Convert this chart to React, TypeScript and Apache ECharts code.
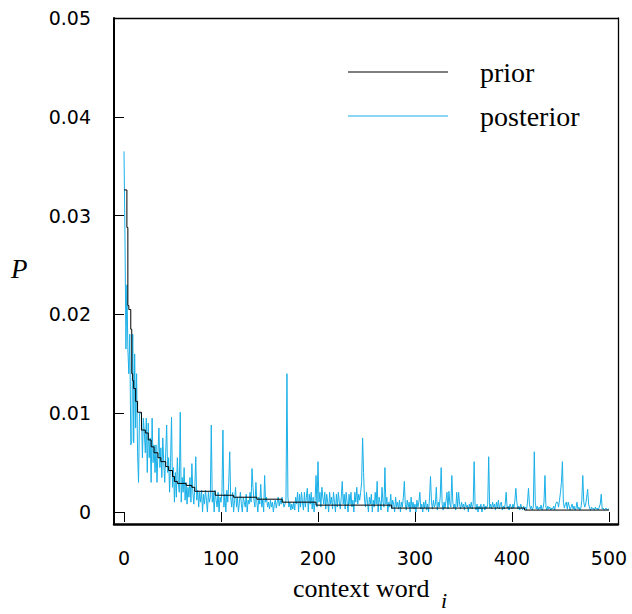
import React, { useEffect, useRef } from "react";
import * as echarts from "echarts";

const xTicks = [0, 100, 200, 300, 400, 500];
const yTicks = [0, 0.01, 0.02, 0.03, 0.04, 0.05];
const seriesNames = ["prior", "posterior"];

// prior: step breakpoints (context word index, probability)
const priorX = [0, 3, 4, 5, 7, 8, 9, 10, 12, 14, 18, 22, 25, 28, 31, 35, 38, 43, 46, 50, 52, 55, 64, 70, 73, 94, 113, 137, 163, 198, 276, 413, 500];
const priorY = [0.0326, 0.0288, 0.0209, 0.0205, 0.0185, 0.014, 0.0133, 0.0125, 0.0112, 0.0101, 0.0083, 0.008, 0.0073, 0.0066, 0.006, 0.0055, 0.0051, 0.0046, 0.0042, 0.0036, 0.0031, 0.0029, 0.0027, 0.0025, 0.0021, 0.0017, 0.0015, 0.0013, 0.001, 0.0007, 0.0004, 0.0002, 0.0002];

// posterior: value for each context word index 0..500
const posterior = [
  0.0365, 0.0280, 0.0165, 0.0230, 0.0165, 0.0140, 0.0180, 0.0068, 0.0072, 0.0180, 0.0070, 0.0160, 0.0085, 0.0140, 0.0060, 0.0030, 0.0100, 0.0100, 0.0100, 0.0055, 0.0095, 0.0080, 0.0060, 0.0095, 0.0040,
  0.0090, 0.0055, 0.0075, 0.0030, 0.0095, 0.0050, 0.0068, 0.0040, 0.0068, 0.0030, 0.0060, 0.0085, 0.0045, 0.0065, 0.0035, 0.0075, 0.0050, 0.0030, 0.0060, 0.0088, 0.0040, 0.0055, 0.0020, 0.0050, 0.0096,
  0.0025, 0.0045, 0.0010, 0.0040, 0.0015, 0.0055, 0.0030, 0.0020, 0.0101, 0.0010, 0.0035, 0.0020, 0.0045, 0.0012, 0.0030, 0.0008, 0.0025, 0.0015, 0.0035, 0.0010, 0.0049, 0.0020, 0.0008, 0.0025, 0.0056,
  0.0012, 0.0022, 0.0005, 0.0020, 0.0010, 0.0022, 0.0000, 0.0018, 0.0008, 0.0022, 0.0012, 0.0000, 0.0020, 0.0010, 0.0015, 0.0088, 0.0010, 0.0020, 0.0000, 0.0022, 0.0012, 0.0005, 0.0020, 0.0000, 0.0015,
  0.0010, 0.0020, 0.0083, 0.0005, 0.0018, 0.0000, 0.0022, 0.0010, 0.0030, 0.0061, 0.0015, 0.0005, 0.0020, 0.0000, 0.0012, 0.0025, 0.0005, 0.0015, 0.0000, 0.0010, 0.0020, 0.0008, 0.0000, 0.0015, 0.0010,
  0.0005, 0.0018, 0.0000, 0.0012, 0.0008, 0.0020, 0.0010, 0.0044, 0.0025, 0.0012, 0.0005, 0.0030, 0.0010, 0.0000, 0.0015, 0.0008, 0.0028, 0.0005, 0.0012, 0.0000, 0.0037, 0.0010, 0.0015, 0.0005, 0.0010,
  0.0003, 0.0012, 0.0005, 0.0010, 0.0000, 0.0008, 0.0012, 0.0004, 0.0010, 0.0015, 0.0006, 0.0012, 0.0008, 0.0015, 0.0010, 0.0005, 0.0008, 0.0012, 0.0140, 0.0015, 0.0005, 0.0010, 0.0002, 0.0008, 0.0003,
  0.0010, 0.0002, 0.0015, 0.0008, 0.0020, 0.0000, 0.0018, 0.0005, 0.0020, 0.0010, 0.0002, 0.0020, 0.0005, 0.0015, 0.0024, 0.0000, 0.0018, 0.0008, 0.0020, 0.0003, 0.0015, 0.0000, 0.0012, 0.0037, 0.0005,
  0.0051, 0.0010, 0.0020, 0.0005, 0.0025, 0.0015, 0.0008, 0.0020, 0.0003, 0.0018, 0.0010, 0.0000, 0.0020, 0.0008, 0.0015, 0.0003, 0.0020, 0.0010, 0.0000, 0.0018, 0.0005, 0.0020, 0.0010, 0.0003, 0.0015,
  0.0031, 0.0008, 0.0018, 0.0003, 0.0020, 0.0010, 0.0000, 0.0018, 0.0008, 0.0020, 0.0005, 0.0012, 0.0000, 0.0020, 0.0010, 0.0025, 0.0008, 0.0018, 0.0012, 0.0020, 0.0030, 0.0075, 0.0040, 0.0012, 0.0005,
  0.0020, 0.0010, 0.0000, 0.0015, 0.0008, 0.0018, 0.0000, 0.0012, 0.0005, 0.0020, 0.0008, 0.0031, 0.0000, 0.0015, 0.0010, 0.0002, 0.0025, 0.0010, 0.0005, 0.0045, 0.0008, 0.0015, 0.0000, 0.0010, 0.0005,
  0.0018, 0.0003, 0.0012, 0.0008, 0.0000, 0.0015, 0.0005, 0.0010, 0.0003, 0.0012, 0.0000, 0.0010, 0.0005, 0.0015, 0.0031, 0.0008, 0.0002, 0.0012, 0.0005, 0.0010, 0.0000, 0.0015, 0.0004, 0.0010, 0.0003,
  0.0008, 0.0000, 0.0012, 0.0005, 0.0010, 0.0020, 0.0003, 0.0008, 0.0000, 0.0010, 0.0004, 0.0012, 0.0002, 0.0008, 0.0000, 0.0015, 0.0036, 0.0010, 0.0003, 0.0012, 0.0005, 0.0008, 0.0025, 0.0002, 0.0010,
  0.0005, 0.0015, 0.0045, 0.0008, 0.0002, 0.0010, 0.0004, 0.0012, 0.0020, 0.0003, 0.0021, 0.0008, 0.0005, 0.0037, 0.0010, 0.0004, 0.0008, 0.0002, 0.0020, 0.0005, 0.0020, 0.0008, 0.0003, 0.0010, 0.0005,
  0.0008, 0.0002, 0.0010, 0.0005, 0.0007, 0.0000, 0.0008, 0.0004, 0.0010, 0.0003, 0.0008, 0.0051, 0.0005, 0.0002, 0.0008, 0.0000, 0.0006, 0.0003, 0.0008, 0.0000, 0.0005, 0.0008, 0.0002, 0.0006, 0.0004,
  0.0008, 0.0056, 0.0004, 0.0008, 0.0003, 0.0010, 0.0005, 0.0008, 0.0002, 0.0010, 0.0004, 0.0012, 0.0003, 0.0008, 0.0010, 0.0002, 0.0006, 0.0003, 0.0008, 0.0020, 0.0004, 0.0006, 0.0002, 0.0008, 0.0005,
  0.0003, 0.0008, 0.0004, 0.0012, 0.0024, 0.0010, 0.0003, 0.0006, 0.0002, 0.0008, 0.0004, 0.0002, 0.0006, 0.0003, 0.0005, 0.0002, 0.0010, 0.0024, 0.0008, 0.0003, 0.0006, 0.0002, 0.0005, 0.0061, 0.0010,
  0.0003, 0.0006, 0.0002, 0.0005, 0.0003, 0.0007, 0.0002, 0.0004, 0.0010, 0.0037, 0.0005, 0.0002, 0.0006, 0.0003, 0.0005, 0.0002, 0.0004, 0.0003, 0.0006, 0.0002, 0.0008, 0.0010, 0.0010, 0.0005, 0.0012,
  0.0020, 0.0030, 0.0051, 0.0010, 0.0004, 0.0008, 0.0010, 0.0003, 0.0010, 0.0006, 0.0002, 0.0005, 0.0008, 0.0003, 0.0006, 0.0002, 0.0004, 0.0010, 0.0003, 0.0005, 0.0002, 0.0004, 0.0012, 0.0037, 0.0010,
  0.0005, 0.0008, 0.0015, 0.0023, 0.0008, 0.0004, 0.0002, 0.0005, 0.0003, 0.0004, 0.0002, 0.0005, 0.0003, 0.0004, 0.0002, 0.0005, 0.0008, 0.0018, 0.0003, 0.0004, 0.0002, 0.0003, 0.0004, 0.0002, 0.0003, 0.0003,
];

const X_MIN = -10.3;
const X_MAX = 509.3;
const Y_MIN = -0.00121;
const Y_MAX = 0.05;

const SANS = "DejaVu Sans";
const SERIF = "Liberation Serif";
const BLUE = "#19b0e8";

export default function App() {
  const ref = useRef<HTMLDivElement>(null);
  useEffect(() => {
    if (!ref.current) return;
    const chart = echarts.init(ref.current, undefined, { renderer: "svg" });
    const hidden = { show: false };
    const frameX = (position: string, width: number) => ({
      type: "value", position, min: X_MIN, max: X_MAX,
      axisLine: { show: true, onZero: false, lineStyle: { color: "#000", width } },
      axisTick: hidden, axisLabel: hidden, splitLine: hidden,
    });
    const frameY = (position: string, width: number) => ({
      type: "value", position, min: Y_MIN, max: Y_MAX,
      axisLine: { show: true, onZero: false, lineStyle: { color: "#000", width } },
      axisTick: hidden, axisLabel: hidden, splitLine: hidden,
    });
    chart.setOption({
      animation: false,
      backgroundColor: "#fff",
      grid: { left: 114, right: 14, top: 18, bottom: 90, containLabel: false },
      legend: {
        data: seriesNames,
        orient: "vertical",
        left: 348,
        top: 57,
        padding: 0,
        icon: "rect",
        itemWidth: 100,
        itemHeight: 1.2,
        itemGap: 14,
        textStyle: { fontFamily: SERIF, fontSize: 28, color: "#000", lineHeight: 30, padding: [0, 0, 0, 27] },
      },
      xAxis: [
        frameX("bottom", 2.5),
        {
          type: "value", position: "bottom", offset: 3, min: X_MIN, max: X_MAX,
          axisLine: { show: false },
          axisTick: { show: true, length: 10, customValues: xTicks, lineStyle: { color: "#000", width: 1 } },
          axisLabel: { show: true, customValues: xTicks, margin: 21, fontFamily: SANS, fontSize: 19, color: "#000" },
          splitLine: hidden,
        },
        frameX("top", 1.3),
      ],
      yAxis: [
        frameY("left", 2),
        {
          type: "value", position: "left", offset: 4, min: Y_MIN, max: Y_MAX,
          axisLine: { show: false },
          axisTick: { show: true, length: 10, customValues: yTicks, lineStyle: { color: "#000", width: 1 } },
          axisLabel: { show: true, customValues: yTicks, margin: 19, fontFamily: SANS, fontSize: 19, color: "#000", formatter: (v: number) => String(v) },
          splitLine: hidden,
        },
        frameY("right", 1.3),
      ],
      graphic: [
        { type: "text", left: 11, top: 255, style: { text: "P", font: `italic 27px "${SERIF}"`, fill: "#000" } },
        { type: "text", left: 293, top: 575, style: { text: "context word", font: `26px "${SERIF}"`, fill: "#000" } },
        { type: "text", left: 441, top: 589, style: { text: "i", font: `italic 22px "${SERIF}"`, fill: "#000" } },
      ],
      series: [
        {
          name: "posterior", type: "line", xAxisIndex: 0, yAxisIndex: 0,
          data: posterior.map((v, i) => [i, v]),
          symbol: "none", color: BLUE,
          lineStyle: { width: 1, color: BLUE },
        },
        {
          name: "prior", type: "line", xAxisIndex: 0, yAxisIndex: 0,
          data: priorX.map((x, i) => [x, priorY[i]]),
          step: "end", symbol: "none", color: "#000",
          lineStyle: { width: 1, color: "#000" },
        },
      ],
    });
    return () => chart.dispose();
  }, []);
  return <div ref={ref} style={{ width: 632, height: 614, position: "absolute", left: 0, top: 0 }} />;
}
